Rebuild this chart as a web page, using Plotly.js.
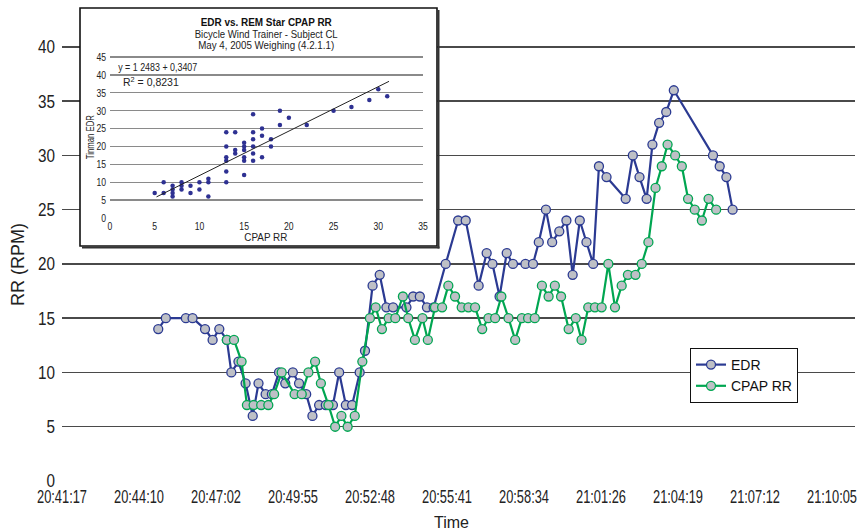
<!DOCTYPE html>
<html><head><meta charset="utf-8">
<script src="https://cdn.plot.ly/plotly-3.0.1.min.js"></script>
<style>html,body{margin:0;padding:0;background:#fff}</style>
</head><body><div id="chart" style="width:867px;height:531px"></div>
<script>
// ---- main chart data ----
const edrTime = ['20:44:53','20:45:10','20:45:55','20:46:10','20:46:38','20:46:55','20:47:10','20:47:27','20:47:37','20:47:53',
 '20:48:09','20:48:25','20:48:38','20:48:54','20:49:08','20:49:24','20:49:38','20:49:55','20:50:09','20:50:25',
 '20:50:39','20:50:54','20:51:09','20:51:25','20:51:39','20:51:54','20:52:08','20:52:25','20:52:37','20:52:54',
 '20:53:10','20:53:25','20:53:40','20:54:10','20:54:25','20:54:40','20:54:56','20:55:11','20:55:38','20:56:06',
 '20:56:23','20:56:52','20:57:10','20:57:23','20:57:39','20:57:55','20:58:09','20:58:37','20:58:54','20:59:07',
 '20:59:23','20:59:37','20:59:53','21:00:09','21:00:23','21:00:39','21:00:54','21:01:09','21:01:22','21:01:39',
 '21:02:22','21:02:38','21:02:53','21:03:09','21:03:22','21:03:37','21:03:53','21:04:10','21:05:38','21:05:53',
 '21:06:08','21:06:22'];
const edrRR = [14,15,15,15,14,13,14,13,10,11,
 9,6,9,8,8,10,9,10,9,8,
 6,7,7,7,10,7,7,10,12,18,
 19,16,16,16,17,17,16,16,20,24,
 24,18,21,20,17,21,20,20,20,22,
 25,22,23,24,19,24,22,20,29,28,
 26,30,28,26,31,33,34,36,30,29,28,25];
const cpapTime = ['20:47:27','20:47:43','20:48:00','20:48:12','20:48:27','20:48:44','20:49:00','20:49:13','20:49:30','20:49:59',
 '20:50:15','20:50:30','20:50:45','20:50:58','20:51:15','20:51:30','20:51:44','20:51:58','20:52:14','20:52:31',
 '20:52:48','20:53:01','20:53:15','20:53:30','20:53:45','20:54:02','20:54:14','20:54:29','20:54:46','20:54:58',
 '20:55:14','20:55:30','20:55:44','20:55:59','20:56:14','20:56:29','20:56:44','20:57:00','20:57:14','20:57:29',
 '20:57:43','20:57:59','20:58:14','20:58:29','20:58:43','20:58:58','20:59:14','20:59:29','20:59:43','20:59:57',
 '21:00:14','21:00:30','21:00:43','21:00:58','21:01:13','21:01:28','21:01:43','21:01:58','21:02:13','21:02:27',
 '21:02:44','21:02:58','21:03:13','21:03:29','21:03:43','21:03:56','21:04:13','21:04:28','21:04:42','21:04:57',
 '21:05:13','21:05:28','21:05:45'];
const cpapRR = [13,13,11,7,7,7,7,8,10,8,
 8,10,11,9,7,5,6,5,6,11,
 15,16,14,15,15,17,15,13,15,13,
 16,16,18,17,16,16,16,14,15,15,
 17,15,13,15,15,15,18,17,18,17,
 14,15,13,16,16,16,20,16,18,19,
 19,20,22,27,29,31,30,29,26,25,
 24,26,25];
const xTickLabels = ['20:41:17','20:44:10','20:47:02','20:49:55','20:52:48','20:55:41','20:58:34','21:01:26','21:04:19','21:07:12','21:10:05'];
const yTickVals = [0,5,10,15,20,25,30,35,40];

// ---- inset scatter data (CPAP RR vs Tinman EDR) ----
const scatterCpap = [5,6,6,7,7,7,7,8,8,8,9,9,10,10,11,11,11,13,13,13,13,13,13,14,14,14,15,15,15,15,15,15,16,16,16,16,16,16,17,17,17,18,18,19,19,20,22,25,27,29,30,31];
const scatterEdr  = [7,10,7,9,8,7,6,10,9,8,9,7,10,8,11,10,6,24,20,17,16,13,10,24,19,18,21,20,19,17,16,12,29,24,22,20,18,16,25,23,17,22,20,30,26,28,26,30,31,33,36,34];
const fitCpap = [5.2, 31.2];
const fitEdr  = [5.9, 38.2];
const insetXTicks = [0,5,10,15,20,25,30,35];
const insetYTicks = [0,5,10,15,20,25,30,35,40,45];

// ---- helpers ----
function toSec(s){const p=s.split(':').map(Number);return p[0]*3600+p[1]*60+p[2];}
const t0 = toSec(xTickLabels[0]);
const tickStep = 172.8; // 0.002 day
const tickVals = xTickLabels.map((_,i)=>t0+i*tickStep);

const W=867,H=531, mL=62, mR=12, mT=36, mB=50;
const pw=W-mL-mR, ph=H-mT-mB;
const xRange=[t0, t0 + pw/77*tickStep];
const yRange=[0,41];
const px2fx = p => (p-mL)/pw;
const py2fy = p => (H-mB-p)/ph;
const fx2x = f => xRange[0]+f*(xRange[1]-xRange[0]);
const fy2y = f => yRange[0]+f*(yRange[1]-yRange[0]);

const SANS = '"Liberation Sans",Arial,Helvetica,sans-serif';
const BLUE='#2b3a92', GREEN='#00a651', MFILL='#bec0c6';

const traces = [
 {x: edrTime.map(toSec), y: edrRR, name:'EDR', type:'scatter', mode:'lines+markers',
  line:{color:BLUE,width:2.2}, marker:{size:9,color:MFILL,line:{color:BLUE,width:1.3}}, xaxis:'x', yaxis:'y'},
 {x: cpapTime.map(toSec), y: cpapRR, name:'CPAP RR', type:'scatter', mode:'lines+markers',
  line:{color:GREEN,width:2.2}, marker:{size:9,color:MFILL,line:{color:GREEN,width:1.3}}, xaxis:'x', yaxis:'y'},
 {x: scatterCpap, y: scatterEdr, type:'scatter', mode:'markers', showlegend:false,
  marker:{size:4.5,color:'#2e3192'}, xaxis:'x2', yaxis:'y2'},
 {x: fitCpap, y: fitEdr, type:'scatter', mode:'lines', showlegend:false,
  line:{color:'#222',width:1}, xaxis:'x2', yaxis:'y2'}
];

// inset box (pixels)
const bx0=80, bx1=437, by0=8, by1=246;
const insetTop = 45.5;

function ann(text, px, py, size, extra){
  return Object.assign({text, xref:'paper', yref:'paper', x:px2fx(px), y:py2fy(py),
    xanchor:'center', yanchor:'middle', showarrow:false,
    font:{family:SANS,size:size,color:'#222'}}, extra||{});
}

const layout = {
 width:W, height:H, margin:{l:mL,r:mR,t:mT,b:mB},
 paper_bgcolor:'#fff', plot_bgcolor:'#fff', showlegend:true,
 font:{family:SANS,color:'#222'},
 xaxis:{range:xRange, tickmode:'array', tickvals:tickVals, ticktext:xTickLabels,
   showgrid:false, zeroline:false, showline:false, ticks:'', ticklabelstandoff:2,
   ticklabeloverflow:'allow',
   tickfont:{family:SANS,size:18.5,color:'#222'}},
 yaxis:{range:yRange, tickmode:'array', tickvals:yTickVals,
   showgrid:true, gridcolor:'#4a4a4a', gridwidth:1.5, zeroline:false, showline:false, ticks:'',
   ticklabelstandoff:6,
   tickfont:{family:SANS,size:18.5,color:'#222'}},
 xaxis2:{domain:[px2fx(110),px2fx(423)], range:[0,35], anchor:'y2', tickmode:'array', tickvals:insetXTicks,
   showgrid:false, zeroline:false, showline:false, ticks:'',
   tickfont:{family:SANS,size:11,color:'#222'}},
 yaxis2:{domain:[py2fy(218),py2fy(218-insetTop*161/45)], range:[0,insetTop], anchor:'x2', tickmode:'array', tickvals:insetYTicks,
   showgrid:true, gridcolor:'#8a8a8a', gridwidth:1.4, zeroline:false, showline:false, ticks:'',
   ticklabelstandoff:3,
   tickfont:{family:SANS,size:11,color:'#222'}},
 legend:{x:px2fx(690), y:py2fy(348), xanchor:'left', yanchor:'top', bgcolor:'#fff',
   bordercolor:'#111', borderwidth:1, font:{family:SANS,size:14,color:'#111'},
   itemwidth:30, tracegroupgap:2},
 shapes:[
  {type:'rect', xref:'x', yref:'y', layer:'between',
   x0:fx2x(px2fx(bx0)), x1:fx2x(px2fx(bx1)), y0:fy2y(py2fy(by1)), y1:yRange[1],
   fillcolor:'#fff', line:{width:0}},
  {type:'rect', xref:'paper', yref:'paper', layer:'above',
   x0:px2fx(bx0), x1:px2fx(bx1), y0:py2fy(by1), y1:py2fy(by0),
   fillcolor:'rgba(0,0,0,0)', line:{color:'#111',width:1.6}},
  {type:'line', xref:'paper', yref:'paper', layer:'above',
   x0:px2fx(bx1+1.5), x1:px2fx(bx1+1.5), y0:py2fy(by1+2.5), y1:py2fy(by0+2),
   line:{color:'#333',width:2}},
  {type:'line', xref:'paper', yref:'paper', layer:'above',
   x0:px2fx(bx0+2), x1:px2fx(bx1+2.5), y0:py2fy(by1+1.5), y1:py2fy(by1+1.5),
   line:{color:'#333',width:2}}
 ],
 annotations:[
  ann('RR (RPM)', 18, 265, 18, {textangle:-90}),
  ann('Time', 451, 522, 16),
  ann('<b>EDR vs. REM Star CPAP RR</b>', 266, 22, 10.5, {font:{family:SANS,size:10.5,color:'#111'}}),
  ann('Bicycle Wind Trainer - Subject CL', 266, 33.5, 10.5),
  ann('May 4, 2005 Weighing (4.2.1.1)', 266, 44.5, 10.5),
  ann('y = 1 2483 + 0,3407', 157.5, 67, 10.5),
  ann('R<sup>2</sup> = 0,8231', 150.5, 81, 10.5),
  ann('Tinman EDR', 90, 137, 10.5, {textangle:-90}),
  ann('CPAP RR', 266, 237, 10.5)
 ]
};

const squeezeMap = {
  'y = 1 2483 + 0,3407': 79,
  'R2 = 0,8231': 36,
  'Tinman EDR': 44,
  'EDR vs. REM Star CPAP RR': 131,
  'Bicycle Wind Trainer - Subject CL': 143,
  'May 4, 2005 Weighing (4.2.1.1)': 136,
  'CPAP RR': 43
};
function squeeze(el, len){
  el.setAttribute('textLength', len);
  el.setAttribute('lengthAdjust', 'spacingAndGlyphs');
}
Plotly.newPlot('chart', traces, layout, {displayModeBar:false, staticPlot:true}).then(gd => {
  gd.querySelectorAll('.xtick text').forEach(t => squeeze(t, 50));
  gd.querySelectorAll('.ytick text').forEach(t => squeeze(t, t.textContent.length*8.5));
  gd.querySelectorAll('.x2tick text, .y2tick text').forEach(t => squeeze(t, t.textContent.length*4.8));
  gd.querySelectorAll('.annotation-text').forEach(t => {
    const k = t.textContent.trim();
    if (squeezeMap[k] !== undefined) squeeze(t, squeezeMap[k]);
  });
});
</script></body></html>
